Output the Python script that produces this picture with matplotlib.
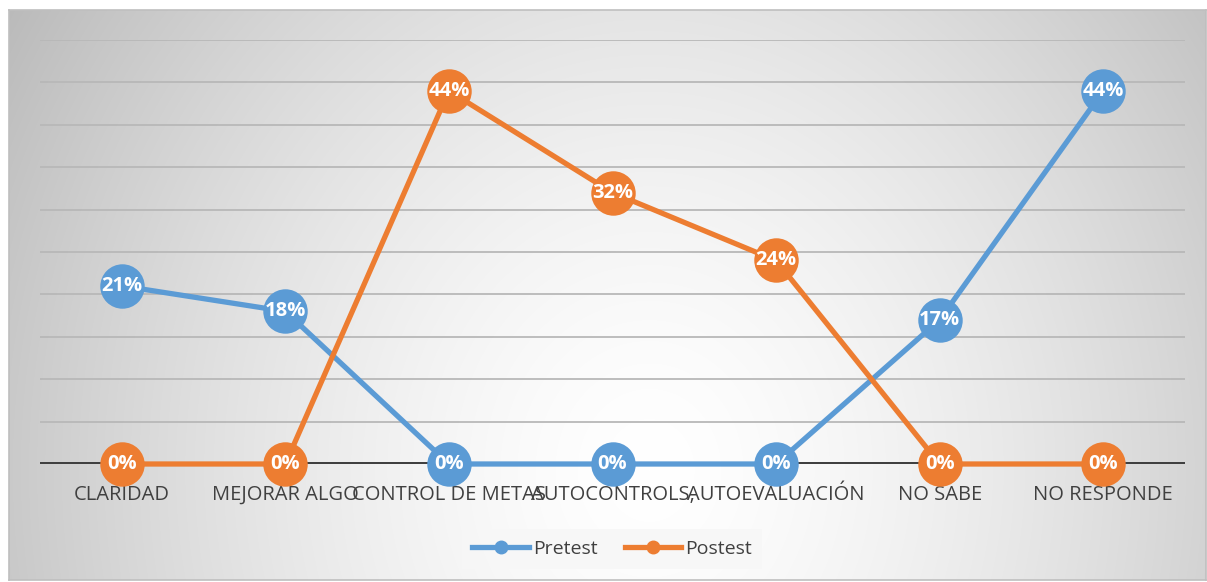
import numpy as np
import matplotlib.pyplot as plt

# categories and percentages per test
categories = ['CLARIDAD', 'MEJORAR ALGO', 'CONTROL DE METAS', 'AUTOCONTROLS,',
              'AUTOEVALUACIÓN', 'NO SABE', 'NO RESPONDE']
pretest = [0.21, 0.18, 0.0, 0.0, 0.0, 0.17, 0.44]
postest = [0.0, 0.0, 0.44, 0.32, 0.24, 0.0, 0.0]

blue = '#5B9BD5'
orange = '#ED7D31'
font = ['Open Sans', 'DejaVu Sans']
plt.rcParams['font.family'] = font

W, H = 1207, 582
fig = plt.figure(figsize=(W / 100, H / 100), dpi=100)

# chart area with a radial grey-to-white fill
bg = fig.add_axes([9 / W, 2 / H, (W - 10) / W, (H - 12) / H])
yy, xx = np.mgrid[0:570, 0:1197]
cx, cy = 640, 460
r = np.sqrt(((xx - cx) / 720.0) ** 2 + ((yy - cy) / 820.0) ** 2)
shade = 1.0 - 0.25 * np.clip(r, 0, 1.2) ** 1.5
bg.imshow(np.dstack([shade, shade, shade]), aspect='auto', extent=(0, 1, 0, 1),
          origin='upper', interpolation='bilinear')
bg.set_xticks([])
bg.set_yticks([])
for s in bg.spines.values():
    s.set_color('#bfbfbf')
    s.set_linewidth(1.2)

ax = fig.add_axes([40 / W, (H - 464) / H, (1185 - 40) / W, (464 - 40) / H])
ax.patch.set_alpha(0)
x = np.arange(len(categories))
ax.set_xlim(-0.5, len(categories) - 0.5)
ax.set_ylim(0, 0.5)

# horizontal gridlines every 5%
for g in np.arange(0.05, 0.51, 0.05):
    ax.axhline(g, color='#b8b8b8', lw=1.3, zorder=1)
ax.axhline(0, color='#404040', lw=3.6, zorder=2)

for vals, col, name in [(pretest, blue, 'Pretest'), (postest, orange, 'Postest')]:
    ax.plot(x, vals, color=col, lw=3.8, marker='o', markersize=32,
            markeredgewidth=0, clip_on=False, zorder=3, label=name)
    for xi, v in zip(x, vals):
        ax.text(xi, v, f'{v * 100:.0f}%', color='white', fontsize=14.5,
                fontweight='bold', ha='center', va='center', zorder=5,
                family=font)

# category names sit on a common baseline
ax.set_xticks(x)
ax.set_xticklabels(categories, fontsize=14.5, color='#404040')
for lbl in ax.get_xticklabels():
    lbl.set_verticalalignment('baseline')
ax.tick_params(axis='x', length=0, pad=26)
ax.set_yticks([])
for s in ax.spines.values():
    s.set_visible(False)

# legend with small markers
handles = [plt.Line2D([0], [0], color=c, lw=3.8, marker='o', markersize=9)
           for c in (blue, orange)]
leg = fig.legend(handles, ['Pretest', 'Postest'], loc='center',
                 bbox_to_anchor=(612 / W, (H - 549) / H), ncol=2, fontsize=14,
                 frameon=True, fancybox=False, handlelength=2.9,
                 handletextpad=0.2, columnspacing=1.4, borderpad=0.55)
leg.get_frame().set_facecolor('#f7f7f7')
leg.get_frame().set_edgecolor('none')
leg.get_frame().set_alpha(0.9)
for t in leg.get_texts():
    t.set_color('#404040')

fig.savefig('out.png', dpi=100)
